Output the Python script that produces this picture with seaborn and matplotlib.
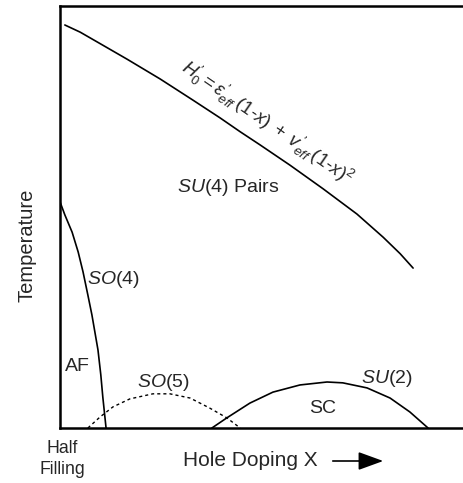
import numpy as np
import pandas as pd
import matplotlib
matplotlib.use("Agg")
import matplotlib.pyplot as plt
import seaborn as sns

# phase boundaries (x = hole doping, T = temperature, both 0..1)
pair_x = [0.012, 0.050, 0.099, 0.166, 0.248, 0.329, 0.396, 0.446, 0.495,
          0.569, 0.651, 0.735, 0.800, 0.842, 0.874]
pair_T = [0.955, 0.938, 0.911, 0.874, 0.827, 0.777, 0.735, 0.702, 0.671,
          0.623, 0.567, 0.507, 0.452, 0.413, 0.379]

af_x = [0.0, 0.012, 0.030, 0.045, 0.057, 0.069, 0.079, 0.094, 0.101, 0.106, 0.114]
af_T = [0.536, 0.505, 0.464, 0.417, 0.370, 0.315, 0.268, 0.185, 0.126, 0.073, 0.0]

so5_x = [0.069, 0.099, 0.131, 0.173, 0.230, 0.272, 0.322, 0.371, 0.413, 0.446]
so5_T = [0.0, 0.026, 0.050, 0.069, 0.081, 0.081, 0.071, 0.047, 0.024, 0.0]

sc_x = [0.376, 0.413, 0.470, 0.527, 0.594, 0.661, 0.700, 0.760, 0.817, 0.866, 0.911]
sc_T = [0.0, 0.024, 0.059, 0.085, 0.102, 0.109, 0.107, 0.095, 0.071, 0.038, 0.0]

sns.set_style("white")
plt.rcParams['font.family'] = ['Liberation Sans', 'DejaVu Sans']
plt.rcParams['mathtext.fontset'] = 'custom'
plt.rcParams['mathtext.rm'] = 'Liberation Sans'
plt.rcParams['mathtext.it'] = 'Liberation Sans:italic'

W, H = 464, 483
fig = plt.figure(figsize=(W / 100, H / 100), dpi=100)
ax = fig.add_axes([60 / W, 1 - 428 / H, 1 - 60 / W, 422 / H])

lw = 1.2
sns.lineplot(x=pair_x, y=pair_T, ax=ax, color="black", lw=lw, sort=False)
sns.lineplot(x=af_x, y=af_T, ax=ax, color="black", lw=lw, sort=False)
sns.lineplot(x=sc_x, y=sc_T, ax=ax, color="black", lw=lw, sort=False)
ax.plot(so5_x, so5_T, color="black", lw=1.0, ls=(0, (2.2, 2.2)))

ax.set_xlim(0, 1)
ax.set_ylim(0, 1)
ax.set_xticks([])
ax.set_yticks([])
ax.spines['right'].set_visible(False)
for s in ['left', 'top', 'bottom']:
    ax.spines[s].set_color("black")
    ax.spines[s].set_linewidth(1.8)

fs = 14
ax.text(0.416, 0.569, r"$\mathit{SU}$(4) Pairs", fontsize=fs, ha="center", va="center")
ax.text(0.131, 0.351, r"$\mathit{SO}$(4)", fontsize=fs, ha="center", va="center")
ax.text(0.043, 0.145, "AF", fontsize=fs, ha="center", va="center")
ax.text(0.255, 0.109, r"$\mathit{SO}$(5)", fontsize=fs, ha="center", va="center")
ax.text(0.809, 0.118, r"$\mathit{SU}$(2)", fontsize=fs, ha="center", va="center")
ax.text(0.649, 0.047, "SC", fontsize=fs, ha="center", va="center")
ax.text(0.513, 0.722,
        r"$\mathit{H_0^{\prime} = \varepsilon_{eff}^{\prime}\,(1\text{-}x)\; +\; v_{eff}^{\prime}\,(1\text{-}x)^2}$",
        fontsize=13.5, ha="center", va="center", rotation=-34.5, rotation_mode="anchor")

fig.text(27 / W, 1 - 245 / H, "Temperature", rotation=90, fontsize=14.5, ha="center", va="center")
fig.text(62 / W, 1 - 459 / H, "Half\nFilling", fontsize=12.7, ha="center", va="center",
         linespacing=1.25)
fig.text(250 / W, 1 - 461 / H, "Hole Doping X", fontsize=15, ha="center", va="center")
fig.add_artist(matplotlib.patches.FancyArrowPatch(
    (330 / W, 1 - 461 / H), (386 / W, 1 - 461 / H), transform=fig.transFigure,
    arrowstyle="-|>,head_length=1.1,head_width=0.4", mutation_scale=14,
    color="black", lw=1.2))

fig.savefig("out.png", dpi=100)
